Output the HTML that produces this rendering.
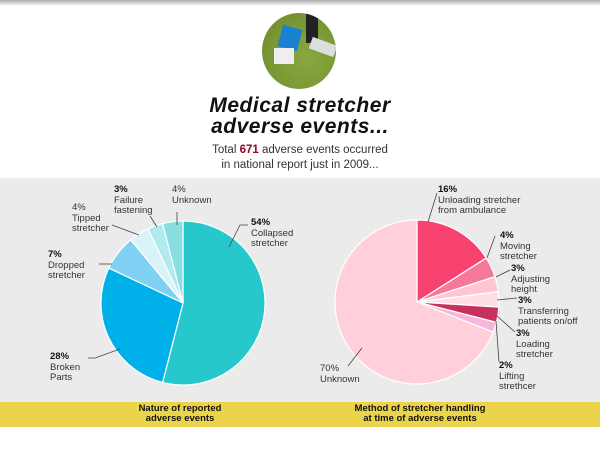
<!DOCTYPE html>
<html><head><meta charset="utf-8"><style>
body{margin:0;width:600px;height:450px;background:#fff;overflow:hidden;font-family:"Liberation Sans",sans-serif;position:relative}
.t{position:absolute;font-size:9.5px;color:#333;line-height:10.5px}
b{color:#111}
</style></head><body>
<div style="position:absolute;left:0;top:0;width:600px;height:6px;background:linear-gradient(#aaa,#fff)"></div>
<div style="position:absolute;left:262px;top:13px;width:74px;height:76px;border-radius:50%;background:radial-gradient(circle at 60% 60%,#8aa840,#6d8a2c);overflow:hidden">
<div style="position:absolute;left:18px;top:14px;width:20px;height:22px;background:#1a80d0;transform:rotate(15deg)"></div>
<div style="position:absolute;left:44px;top:0;width:12px;height:30px;background:#222"></div>
<div style="position:absolute;left:12px;top:35px;width:20px;height:16px;background:#eee"></div>
<div style="position:absolute;left:48px;top:28px;width:26px;height:12px;background:#ddd;transform:rotate(20deg)"></div>
</div>
<div style="position:absolute;left:0;top:95px;width:600px;text-align:center;font-size:21px;font-style:italic;font-weight:bold;color:#111;line-height:21px;letter-spacing:0.5px">Medical stretcher<br>adverse events...</div>
<div style="position:absolute;left:0;top:143px;width:600px;text-align:center;font-size:11.5px;color:#333;line-height:15px">Total <span style="color:#8b0a2a;font-weight:bold">671</span> adverse events occurred<br>in national report just in 2009...</div>
<div style="position:absolute;left:0;top:178px;width:600px;height:224px;background:#ebebeb"></div>
<div style="position:absolute;left:0;top:402px;width:600px;height:25px;background:#ecd44a"></div>
<div style="position:absolute;left:100px;top:404px;width:160px;text-align:center;font-size:9.5px;font-weight:bold;line-height:10px;color:#111">Nature of reported<br>adverse events</div>
<div style="position:absolute;left:320px;top:404px;width:200px;text-align:center;font-size:9.5px;font-weight:bold;line-height:10px;color:#111">Method of stretcher handling<br>at time of adverse events</div>
<svg id="s" width="600" height="450" style="position:absolute;left:0;top:0"></svg>
<div class="t" style="left:251px;top:218px"><b>54%</b><br>Collapsed<br>stretcher</div>
<div class="t" style="left:50px;top:352px"><b>28%</b><br>Broken<br>Parts</div>
<div class="t" style="left:48px;top:250px"><b>7%</b><br>Dropped<br>stretcher</div>
<div class="t" style="left:72px;top:203px">4%<br>Tipped<br>stretcher</div>
<div class="t" style="left:114px;top:185px"><b>3%</b><br>Failure<br>fastening</div>
<div class="t" style="left:172px;top:185px">4%<br>Unknown</div>
<div class="t" style="left:438px;top:185px"><b>16%</b><br>Unloading stretcher<br>from ambulance</div>
<div class="t" style="left:500px;top:231px"><b>4%</b><br>Moving<br>stretcher</div>
<div class="t" style="left:511px;top:264px"><b>3%</b><br>Adjusting<br>height</div>
<div class="t" style="left:518px;top:296px"><b>3%</b><br>Transferring<br>patients on/off</div>
<div class="t" style="left:516px;top:329px"><b>3%</b><br>Loading<br>stretcher</div>
<div class="t" style="left:499px;top:361px"><b>2%</b><br>Lifting<br>strethcer</div>
<div class="t" style="left:320px;top:364px">70%<br>Unknown</div>
<script>
var s=document.getElementById('s'),h='';
function pie(cx,cy,r,d){var a=0;d.forEach(function(p){var a1=a+p[0]*3.6,rr=p[2]||r;
var x0=cx+rr*Math.sin(a*Math.PI/180),y0=cy-rr*Math.cos(a*Math.PI/180),x1=cx+rr*Math.sin(a1*Math.PI/180),y1=cy-rr*Math.cos(a1*Math.PI/180);
h+='<path d="M'+cx+' '+cy+'L'+x0+' '+y0+'A'+rr+' '+rr+' 0 '+(a1-a>180?1:0)+' 1 '+x1+' '+y1+'Z" fill="'+p[1]+'" stroke="#fff" stroke-width="1.2"/>';a=a1;});}
pie(183,303,82,[[54,'#26c8cc'],[28,'#00b0e8'],[7,'#80d0f4'],[4,'#d8f4f8'],[3,'#b0eaee'],[4,'#88dfe2']]);
pie(417,302,82,[[16,'#f7426f'],[4,'#f7799a'],[3,'#ffc6d2'],[3,'#ffdfe6'],[3,'#c8305e'],[2,'#f5b8dc'],[69,'#ffd0d9']]);
var L=[[[229,247],[240,225],[248,225]],[[120,349],[95,358],[88,358]],[[112,264],[99,264]],[[139,235],[112,225]],[[157,227],[150,216]],[[177,225],[177,212]],[[428,222],[437,193]],[[487,258],[495,236]],[[496,277],[510,270]],[[497,300],[517,298]],[[497,316],[515,332]],[[496,321],[499,362]],[[362,348],[348,366]]];
L.forEach(function(l){h+='<polyline points="'+l.map(function(p){return p.join(',')}).join(' ')+'" fill="none" stroke="#444" stroke-width="0.8"/>'});
s.innerHTML=h;
</script>
</body></html>
